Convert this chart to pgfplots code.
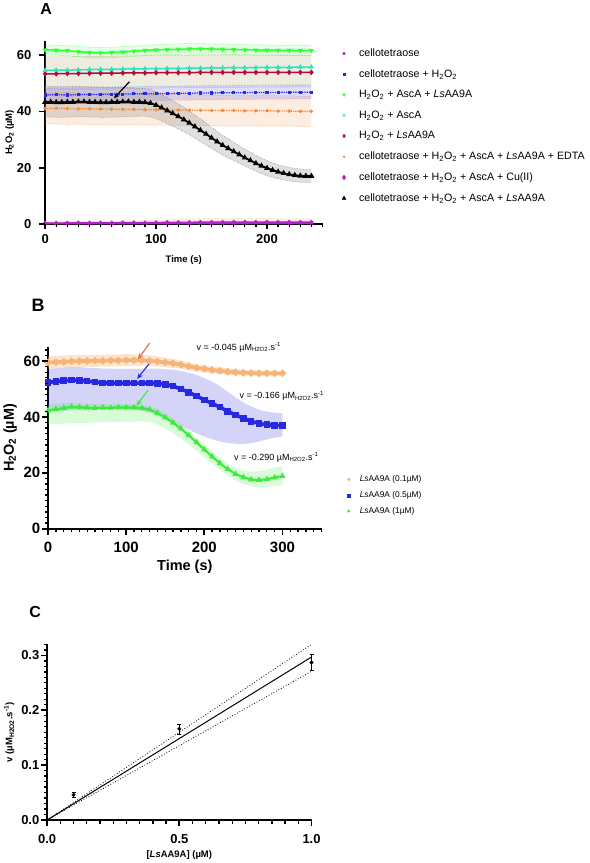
\documentclass[border=0pt]{standalone}
\usepackage{pgfplots}
\pgfplotsset{compat=1.18}
\usepackage{pgfplotstable}
\usepgfplotslibrary{fillbetween}
\usetikzlibrary{arrows.meta}
\usepackage{fontspec}
\setmainfont{Liberation Sans}

\definecolor{cPur}{RGB}{160,40,200}
\definecolor{cBlu}{RGB}{40,40,230}
\definecolor{cGrn}{RGB}{50,255,50}
\definecolor{cTur}{RGB}{40,230,190}
\definecolor{cRed}{RGB}{180,10,60}
\definecolor{cOra}{RGB}{245,140,60}
\definecolor{cMag}{RGB}{190,30,200}
\definecolor{bOra}{RGB}{247,180,120}
\definecolor{bBlu}{RGB}{40,40,225}
\definecolor{bGrn}{RGB}{60,235,60}
\definecolor{aOra}{RGB}{215,110,80}

\pgfplotstableread{
t c4 c4l c4h hb hbl hbh gm gl gh tm tl th rm rl rh em el eh cu
0   0.4 0.0 0.9 45.8 43.5 48.2 61.8 60.0 63.5 54.5 48.2 61.0 53.3 47.6 59.2 41.0 35.5 46.6 0.3
10  0.4 0.0 0.9 45.9 43.6 48.3 61.7 59.9 63.4 54.6 48.4 61.2 53.3 47.5 59.3 41.1 35.6 46.8 0.3
20  0.5 0.0 1.0 45.8 43.4 48.2 61.5 59.7 63.3 54.6 48.3 61.1 53.4 47.7 59.3 41.0 35.4 46.7 0.3
30  0.5 0.0 1.0 45.9 43.5 48.3 61.1 59.3 63.0 54.7 48.5 61.2 53.4 47.8 59.4 40.9 35.5 46.5 0.3
40  0.5 0.0 1.0 46.0 43.6 48.4 60.8 59.0 62.7 54.8 48.6 61.3 53.5 47.8 59.4 40.9 35.4 46.4 0.3
50  0.5 0.0 1.1 46.0 43.6 48.5 60.7 58.9 62.6 54.9 48.6 61.4 53.5 47.9 59.5 40.8 35.3 46.3 0.3
60  0.5 0.0 1.1 46.1 43.7 48.5 60.8 59.0 62.7 54.9 48.7 61.4 53.5 47.9 59.5 40.8 35.2 46.4 0.3
70  0.6 0.0 1.2 46.1 43.7 48.6 61.0 59.2 62.9 55.0 48.8 61.5 53.6 48.0 59.6 40.7 35.2 46.3 0.3
80  0.6 0.0 1.2 46.2 43.8 48.6 61.3 59.5 63.1 55.0 48.7 61.5 53.6 48.1 59.6 40.7 35.3 46.2 0.3
90  0.6 0.0 1.3 46.2 43.8 48.7 61.6 59.8 63.4 55.1 48.8 61.6 53.6 48.1 59.7 40.6 35.2 46.1 0.3
100 0.6 0.0 1.4 46.3 43.9 48.8 61.8 60.0 63.6 55.1 48.9 61.6 53.7 48.2 59.7 40.6 35.1 46.0 0.4
110 0.7 0.0 1.6 46.3 43.9 48.8 61.9 60.1 63.7 55.2 48.9 61.7 53.7 48.3 59.8 40.5 35.1 45.9 0.4
120 0.7 0.0 1.8 46.4 44.0 48.9 62.0 60.2 63.9 55.2 49.0 61.7 53.7 48.3 59.8 40.5 35.0 45.9 0.4
130 0.7 0.0 1.9 46.4 44.0 48.9 62.1 60.3 64.0 55.3 49.0 61.8 53.7 48.4 59.8 40.4 35.0 45.8 0.4
140 0.8 0.0 2.0 46.5 44.1 49.0 62.1 60.3 64.0 55.3 49.1 61.8 53.8 48.4 59.9 40.4 35.0 45.8 0.4
150 0.8 0.0 2.0 46.5 44.1 49.0 62.1 60.3 63.9 55.4 49.1 61.9 53.8 48.4 59.9 40.3 34.9 45.7 0.4
160 0.8 0.0 2.0 46.6 44.2 49.0 62.0 60.2 63.8 55.4 49.2 61.9 53.8 48.5 59.9 40.3 34.9 45.7 0.4
170 0.8 0.0 2.0 46.6 44.2 49.1 61.9 60.1 63.7 55.5 49.2 61.9 53.8 48.5 59.9 40.3 34.9 45.7 0.4
180 0.8 0.0 2.0 46.6 44.2 49.1 61.8 60.0 63.6 55.5 49.3 62.0 53.8 48.5 59.9 40.2 34.9 45.6 0.4
190 0.8 0.0 2.0 46.7 44.3 49.1 61.7 59.9 63.5 55.5 49.3 62.0 53.8 48.6 59.9 40.2 34.8 45.6 0.4
200 0.8 0.0 2.0 46.7 44.3 49.2 61.7 59.9 63.5 55.6 49.4 62.0 53.8 48.6 59.9 40.2 34.8 45.6 0.4
210 0.8 0.0 1.9 46.7 44.3 49.2 61.6 59.8 63.4 55.6 49.4 62.1 53.8 48.6 59.9 40.1 34.8 45.5 0.4
220 0.8 0.0 1.9 46.8 44.4 49.2 61.6 59.8 63.4 55.6 49.4 62.1 53.8 48.6 59.9 40.1 34.8 45.5 0.4
230 0.8 0.0 1.9 46.8 44.4 49.3 61.5 59.7 63.3 55.7 49.5 62.1 53.8 48.7 59.9 40.0 34.7 45.4 0.4
240 0.8 0.0 1.9 46.8 44.4 49.3 61.5 59.7 63.3 55.7 49.5 62.1 53.8 48.7 59.9 40.0 34.7 45.4 0.4
}\tA

\pgfplotstableread{
t bm bl bh
0 43.3 38.0 48.8
5 43.3 38.0 48.9
10 43.2 37.9 48.8
15 43.2 37.9 48.7
20 43.3 38.0 48.8
25 43.3 38.0 48.9
30 43.4 38.1 48.9
35 43.4 38.1 48.8
40 43.3 38.0 48.7
45 43.3 38.0 48.7
50 43.2 37.9 48.6
55 43.2 37.9 48.6
60 43.3 38.0 48.5
65 43.3 38.0 48.5
70 43.4 38.1 48.5
75 43.4 38.2 48.4
80 43.3 38.2 48.3
85 43.3 38.3 48.2
90 43.2 38.3 48.0
95 42.9 38.1 47.7
100 42.2 37.4 47.0
105 41.3 36.6 46.0
110 40.3 35.7 44.9
115 39.3 34.8 43.8
120 38.2 33.8 42.6
125 37.1 32.8 41.4
130 35.9 31.7 40.1
135 34.6 30.5 38.7
140 33.3 29.3 37.3
145 32.0 28.1 35.9
150 30.6 26.9 34.3
155 29.3 25.7 32.9
160 28.0 24.5 31.5
165 26.9 23.5 30.3
170 25.8 22.6 29.0
175 24.7 21.6 27.8
180 23.6 20.6 26.6
185 22.6 19.7 25.5
190 21.6 18.8 24.4
195 20.7 18.0 23.4
200 19.9 17.2 22.6
205 19.2 16.6 21.8
210 18.6 16.1 21.1
215 18.1 15.7 20.6
220 17.7 15.4 20.1
225 17.4 15.1 19.8
230 17.2 14.9 19.6
235 17.1 14.9 19.4
240 17.1 14.9 19.3
}\tK

\pgfplotstableread{
t om ol oh bm bl bh gm gl gh
0 59.5 57.3 61.8 52.3 42.0 57.2 42.3 37.3 44.5
10 59.6 57.4 61.9 52.7 42.1 57.4 42.8 37.5 44.8
20 59.7 57.5 62.0 53.0 42.2 57.6 43.2 37.6 45.0
30 59.9 57.7 62.1 53.2 42.4 57.8 43.6 37.8 45.2
40 60.0 57.8 62.2 53.1 42.5 57.8 43.5 37.9 45.0
50 60.0 57.9 62.2 52.8 42.6 57.6 43.3 37.9 44.8
60 60.1 57.9 62.3 52.5 42.7 57.5 43.2 38.0 44.6
70 60.1 58.0 62.3 52.2 42.8 57.3 43.3 38.1 44.6
80 60.2 58.0 62.4 52.1 42.8 57.3 43.3 38.1 44.5
90 60.2 58.1 62.4 52.1 42.8 57.2 43.4 38.2 44.6
100 60.3 58.1 62.5 52.1 42.7 57.2 43.4 38.2 44.6
110 60.3 58.2 62.4 52.1 42.6 57.2 43.4 38.3 44.6
120 60.3 58.2 62.3 52.1 42.2 57.2 43.2 38.4 44.4
130 60.1 58.1 62.1 52.1 41.5 57.3 42.6 38.2 43.9
140 59.8 58.0 61.7 52.0 40.6 57.3 41.4 37.3 42.8
150 59.5 57.8 61.2 51.7 39.5 57.1 39.8 35.9 41.3
160 59.2 57.6 60.8 51.0 38.2 56.9 37.9 34.2 39.4
170 58.7 57.2 60.2 50.0 36.8 56.5 35.8 32.3 37.4
180 58.1 56.8 59.5 48.8 35.5 55.8 33.4 30.2 35.0
190 57.6 56.3 58.9 47.5 34.1 55.0 30.9 27.9 32.5
200 57.2 56.0 58.4 46.1 33.0 54.0 28.3 25.5 30.1
210 56.8 55.6 58.0 44.8 32.0 52.6 25.8 23.2 27.6
220 56.5 55.3 57.7 43.5 31.2 51.0 23.4 21.0 25.3
230 56.2 55.1 57.4 42.0 30.7 49.0 21.3 19.0 23.3
240 56.0 54.9 57.1 40.7 30.4 47.0 19.6 17.2 21.7
250 55.8 54.8 56.9 39.5 30.3 45.2 18.4 15.9 20.8
260 55.7 54.7 56.8 38.4 30.6 43.7 17.6 15.1 20.4
270 55.6 54.7 56.7 37.7 31.2 42.6 17.4 14.9 20.6
280 55.6 54.7 56.6 37.2 32.0 41.9 17.7 15.0 21.1
290 55.6 54.8 56.5 37.0 32.6 41.5 18.3 15.3 21.8
300 55.6 54.8 56.5 36.9 33.0 41.3 18.8 15.6 22.4
}\tB

\pgfplotsset{
  gp/.style={
    scale only axis, anchor=south west,
    axis x line=bottom, axis y line=left,
    axis line style={line width=2pt,-},
    tick align=outside,
    /pgf/number format/assume math mode=true,
    clip=false,
  },
  band/.style={forget plot, draw=#1, densely dotted, line width=0.5pt},
  legA/.style={legend image code/.code={%
      \draw[##1] plot[only marks] coordinates {(0pt,0pt)};
      \path[draw=none,fill=none] (-2.5pt,0pt) -- (#1,0pt);}},
}
\tikzset{
  mjx/.style={line width=1.7pt, black, line cap=butt},
  mnx/.style={line width=1.3pt, black, line cap=butt},
}

\begin{document}
\begin{tikzpicture}
\path (0,0) rectangle (591pt,863pt);

% ---------------- Panel A ----------------
\begin{axis}[gp, at={(45pt,639pt)}, width=278pt, height=184pt,
  xmin=0, xmax=250, ymin=0, ymax=65,
  xtick={0,100,200}, ytick={0,20,40,60},
  tick label style={font=\bfseries\fontsize{13}{13}\selectfont},
  xticklabel style={yshift=-2pt}, yticklabel style={xshift=-6pt},
  xlabel={Time (s)}, ylabel={H\textsubscript{2}O\textsubscript{2} (µM)},
  xlabel style={yshift=-5pt}, ylabel style={yshift=-4pt},
  label style={font=\bfseries\fontsize{9.5}{11}\selectfont},
  legA=13.5pt,
  legend style={at={(1.068,0.965)}, anchor=north west, draw=none, fill=none,
    font=\fontsize{10.7}{12}\selectfont, row sep=8.6pt, inner sep=0pt,
    nodes={inner sep=1.5pt, anchor=west}},
  legend cell align=left,
]
% bands
\addplot[band=cOra, name path=eh] table[x=t,y=eh]{\tA};
\addplot[band=cOra, name path=el] table[x=t,y=el]{\tA};
\addplot[fill=cOra, fill opacity=0.16, forget plot] fill between[of=eh and el];
\addplot[band=cTur, name path=th] table[x=t,y=th]{\tA};
\addplot[band=cTur, name path=tl] table[x=t,y=tl]{\tA};
\addplot[fill=cTur!50!yellow, fill opacity=0.12, forget plot] fill between[of=th and tl];
\addplot[band=cRed!50, name path=rh] table[x=t,y=rh]{\tA};
\addplot[band=magenta!60, name path=rl] table[x=t,y=rl]{\tA};
\addplot[fill=cRed!60, fill opacity=0.12, forget plot] fill between[of=rh and rl];
\addplot[band=cGrn, name path=gh] table[x=t,y=gh]{\tA};
\addplot[band=cGrn, name path=gl] table[x=t,y=gl]{\tA};
\addplot[fill=cGrn, fill opacity=0.12, forget plot] fill between[of=gh and gl];
\addplot[band=cBlu!50, name path=hh] table[x=t,y=hbh]{\tA};
\addplot[band=cBlu!50, name path=hl] table[x=t,y=hbl]{\tA};
\addplot[fill=cBlu, fill opacity=0.15, forget plot] fill between[of=hh and hl];
\addplot[band=gray, name path=kh] table[x=t,y=bh]{\tK};
\addplot[band=gray, name path=kl] table[x=t,y=bl]{\tK};
\addplot[fill=gray, fill opacity=0.25, forget plot] fill between[of=kh and kl];
\addplot[band=pink, name path=ch] table[x=t,y=c4h]{\tA};
\addplot[draw=none, name path=cl, forget plot] table[x=t,y=c4l]{\tA};
\addplot[fill=pink, fill opacity=0.3, forget plot] fill between[of=ch and cl];
% means
\addplot[forget plot, cPur, line width=1.5pt, mark=*, mark size=1.3pt] table[x=t,y=c4]{\tA};
\addplot[forget plot, cMag, line width=1.5pt, mark=diamond*, mark size=1.7pt] table[x=t,y=cu]{\tA};
\addplot[forget plot, cOra, line width=1.3pt, densely dotted, mark=*, mark size=1.0pt, mark options={solid}] table[x=t,y=em]{\tA};
\addplot[forget plot, cBlu, line width=1.3pt, densely dotted, mark=square*, mark size=0.9pt, mark options={solid}] table[x=t,y=hb]{\tA};
\addplot[forget plot, cRed, line width=1.5pt, mark=diamond*, mark size=1.7pt] table[x=t,y=rm]{\tA};
\addplot[forget plot, cTur, line width=1.5pt, mark=triangle*, mark size=1.5pt] table[x=t,y=tm]{\tA};
\addplot[forget plot, cGrn, line width=1.5pt, mark=triangle*, mark size=1.5pt, mark options={rotate=180}] table[x=t,y=gm]{\tA};
\addplot[forget plot, black, line width=1.8pt, mark=triangle*, mark size=1.7pt] table[x=t,y=bm]{\tK};
\draw[-{Stealth[length=6pt,width=5pt]}, line width=1.2pt] (axis cs:76,50.5) -- (axis cs:62,44.6);
% legend
\addlegendimage{only marks, mark=*, mark size=1.4pt, cPur}
\addlegendentry{cellotetraose}
\addlegendimage{only marks, mark=square*, mark size=0.8pt, cBlu}
\addlegendentry{cellotetraose + H\textsubscript{2}O\textsubscript{2}}
\addlegendimage{only marks, mark=triangle*, mark size=1.6pt, mark options={rotate=180}, cGrn}
\addlegendentry{H\textsubscript{2}O\textsubscript{2} + AscA + \textit{Ls}AA9A}
\addlegendimage{only marks, mark=triangle*, mark size=1.5pt, cTur}
\addlegendentry{H\textsubscript{2}O\textsubscript{2} + AscA}
\addlegendimage{only marks, mark=diamond*, mark size=1.8pt, cRed}
\addlegendentry{H\textsubscript{2}O\textsubscript{2} + \textit{Ls}AA9A}
\addlegendimage{only marks, mark=*, mark size=1.0pt, cOra}
\addlegendentry{cellotetraose + H\textsubscript{2}O\textsubscript{2} + AscA + \textit{Ls}AA9A + EDTA}
\addlegendimage{only marks, mark=diamond*, mark size=2.4pt, cMag}
\addlegendentry{cellotetraose + H\textsubscript{2}O\textsubscript{2} + AscA + Cu(II)}
\addlegendimage{only marks, mark=triangle*, mark size=2.2pt, black}
\addlegendentry{cellotetraose + H\textsubscript{2}O\textsubscript{2} + AscA + \textit{Ls}AA9A}
\end{axis}

% ---------------- Panel B ----------------
\begin{axis}[gp, at={(48pt,334pt)}, width=274pt, height=182pt,
  xmin=0, xmax=350, ymin=0, ymax=65,
  xtick={0,100,200,300}, ytick={0,20,40,60},
  tick label style={font=\bfseries\fontsize{15}{15}\selectfont},
  xticklabel style={yshift=-6pt},
  xlabel={Time (s)}, ylabel={H\textsubscript{2}O\textsubscript{2} (µM)},
  label style={font=\bfseries\fontsize{14.5}{16}\selectfont},
  legA=9.5pt,
  legend style={at={(1.09,0.302)}, anchor=north west, draw=none, fill=none,
    font=\fontsize{8.4}{10}\selectfont, row sep=5.4pt, inner sep=0pt,
    nodes={inner sep=1.5pt, anchor=west}},
  legend cell align=left,
]
\addplot[draw=none, forget plot, name path=boh] table[x=t,y=oh]{\tB};
\addplot[draw=none, forget plot, name path=bol] table[x=t,y=ol]{\tB};
\addplot[fill=bOra, fill opacity=0.35, forget plot] fill between[of=boh and bol];
\addplot[draw=none, forget plot, name path=bbh] table[x=t,y=bh]{\tB};
\addplot[draw=none, forget plot, name path=bbl] table[x=t,y=bl]{\tB};
\addplot[fill=bBlu, fill opacity=0.2, forget plot] fill between[of=bbh and bbl];
\addplot[draw=none, forget plot, name path=bgh] table[x=t,y=gh]{\tB};
\addplot[draw=none, forget plot, name path=bgl] table[x=t,y=gl]{\tB};
\addplot[fill=bGrn, fill opacity=0.2, forget plot] fill between[of=bgh and bgl];
\addplot[forget plot, bOra, line width=3.6pt, mark=*, mark size=1.4pt] table[x=t,y=om]{\tB};
\addplot[forget plot, bBlu, line width=3.6pt, mark=square*, mark size=1.5pt] table[x=t,y=bm]{\tB};
\addplot[forget plot, bGrn, line width=2.2pt, mark=triangle*, mark size=1.5pt] table[x=t,y=gm]{\tB};
\draw[-{Stealth[length=6pt,width=5pt]}, line width=1.1pt, aOra] (axis cs:130,66.4) -- (axis cs:115,60.6);
\draw[-{Stealth[length=6pt,width=5pt]}, line width=1.1pt, bBlu] (axis cs:130,59.3) -- (axis cs:114,53.6);
\draw[-{Stealth[length=6pt,width=5pt]}, line width=1.1pt, bGrn] (axis cs:128,49.6) -- (axis cs:113,44.0);
\node[anchor=west, font=\fontsize{9}{10}\selectfont, inner sep=0pt] at (axis cs:190,65) {v = -0.045 µM\textsubscript{H2O2}.s\textsuperscript{-1}};
\node[anchor=west, font=\fontsize{9}{10}\selectfont, inner sep=0pt] at (axis cs:245,47.5) {v = -0.166 µM\textsubscript{H2O2}.s\textsuperscript{-1}};
\node[anchor=west, font=\fontsize{9}{10}\selectfont, inner sep=0pt] at (axis cs:238,25.5) {v = -0.290 µM\textsubscript{H2O2}.s\textsuperscript{-1}};
\addlegendimage{only marks, mark=*, mark size=1.5pt, bOra}
\addlegendentry{\textit{Ls}AA9A (0.1µM)}
\addlegendimage{only marks, mark=square*, mark size=1.5pt, bBlu}
\addlegendentry{\textit{Ls}AA9A (0.5µM)}
\addlegendimage{only marks, mark=triangle*, mark size=1.6pt, bGrn}
\addlegendentry{\textit{Ls}AA9A (1µM)}
\end{axis}

% ---------------- Panel C ----------------
\begin{axis}[gp, at={(47pt,42pt)}, width=265pt, height=176pt,
  xmin=0, xmax=1, ymin=0, ymax=0.32,
  xtick={0,0.5,1}, ytick={0,0.1,0.2,0.3},
  xticklabel style={yshift=-7pt, /pgf/number format/.cd, fixed, fixed zerofill, precision=1},
  yticklabel style={/pgf/number format/.cd, fixed, fixed zerofill, precision=1},
  tick label style={font=\bfseries\fontsize{13}{13}\selectfont},
  axis line style={line width=1.8pt,-},
  xlabel={[\textit{Ls}AA9A] (µM)},
  ylabel={v (µM\textsubscript{H2O2}.s\textsuperscript{-1})},
  label style={font=\bfseries\fontsize{9.5}{11}\selectfont},
]
\addplot[black, dotted, line width=0.8pt] coordinates {(0,0) (1,0.320)};
\addplot[black, dotted, line width=0.8pt] coordinates {(0,0) (1,0.271)};
\addplot[black, line width=1pt] coordinates {(0,0) (1,0.297)};
\addplot[black, only marks, mark=*, mark size=1.8pt,
  error bars/.cd, y dir=both, y explicit,
  error bar style={line width=0.6pt}, error mark options={rotate=90, mark size=2pt, line width=0.6pt}]
  coordinates {(0.1,0.046) +- (0,0.004) (0.5,0.166) +- (0,0.009) (1.0,0.287) +- (0,0.0145)};
\end{axis}

% ---------------- axis tick marks (drawn on top) ----------------
% Panel A: x unit 1.112pt per s, y unit 2.8308pt per uM
\foreach \t in {0,100,200} \draw[mjx] (45pt+\t*1.112pt,639pt) -- ++(0pt,-5pt);
\foreach \t in {10,20,30,40,50,60,70,80,90,110,120,130,140,150,160,170,180,190,210,220,230,240,250} \draw[mnx] (45pt+\t*1.112pt,639pt) -- ++(0pt,-3pt);
\foreach \v in {0,20,40,60} \draw[mjx] (45pt,639pt+\v*2.8308pt) -- ++(-6pt,0pt);
% Panel B: x unit 0.78286pt per s, y unit 2.8pt per uM
\foreach \t in {0,100,200,300} \draw[mjx] (48pt+\t*0.78286pt,334pt) -- ++(0pt,-6pt);
\foreach \t in {10,20,30,40,50,60,70,80,90,110,120,130,140,150,160,170,180,190,210,220,230,240,250,260,270,280,290,310,320,330,340,350} \draw[mnx] (48pt+\t*0.78286pt,334pt) -- ++(0pt,-3.5pt);
\foreach \v in {0,20,40,60} \draw[mjx] (48pt,334pt+\v*2.8pt) -- ++(-6pt,0pt);
\foreach \v in {2,4,6,8,10,12,14,16,18,22,24,26,28,30,32,34,36,38,42,44,46,48,50,52,54,56,58,62,64} \draw[mnx] (48pt,334pt+\v*2.8pt) -- ++(-3.5pt,0pt);
% Panel C: x unit 265pt, y unit 550pt
\foreach \u in {0,0.5,1} \draw[mjx] (47pt+\u*265pt,42pt) -- ++(0pt,-6pt);
\foreach \u in {0.05,0.1,0.15,0.2,0.25,0.3,0.35,0.4,0.45,0.55,0.6,0.65,0.7,0.75,0.8,0.85,0.9,0.95} \draw[mnx] (47pt+\u*265pt,42pt) -- ++(0pt,-3.5pt);
\foreach \v in {0,0.1,0.2,0.3} \draw[mjx] (47pt,42pt+\v*550pt) -- ++(-6pt,0pt);
\foreach \v in {0.01,0.02,0.03,0.04,0.05,0.06,0.07,0.08,0.09,0.11,0.12,0.13,0.14,0.15,0.16,0.17,0.18,0.19,0.21,0.22,0.23,0.24,0.25,0.26,0.27,0.28,0.29,0.31,0.32} \draw[mnx] (47pt,42pt+\v*550pt) -- ++(-3.5pt,0pt);

\node[font=\bfseries\fontsize{16}{16}\selectfont] at (46pt,855pt) {A};
\node[font=\bfseries\fontsize{18}{18}\selectfont] at (38pt,558pt) {B};
\node[font=\bfseries\fontsize{16}{16}\selectfont] at (35pt,250pt) {C};
\end{tikzpicture}
\end{document}
